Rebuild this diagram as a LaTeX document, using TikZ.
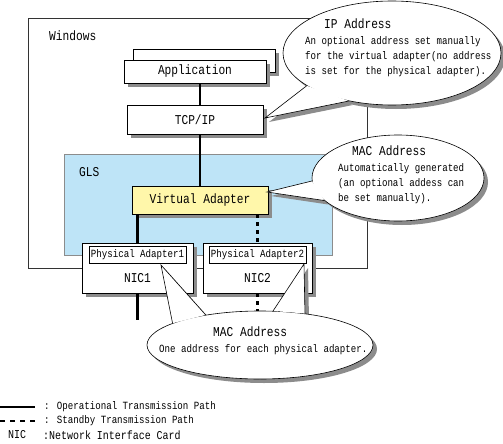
\documentclass[tikz,border=0pt]{standalone}
\usepackage{fontspec}
\setmainfont{Liberation Mono}[FakeStretch=0.83]
\usetikzlibrary{shapes.geometric,shadows}
\pgfdeclarelayer{shadelayer}
\pgfdeclarelayer{balloonlayer}
\pgfsetlayers{main,shadelayer,balloonlayer}
\definecolor{glsblue}{RGB}{190,228,247}
\definecolor{vayellow}{RGB}{255,247,170}
\definecolor{shadegray}{RGB}{140,140,140}
\newcommand{\bigfont}{\fontsize{13.5}{16}\selectfont}
\newcommand{\smallfont}{\fontsize{11}{15}\selectfont}
\tikzstyle{frame}=[draw=black!80, line width=0.6pt]
\tikzstyle{gls area}=[fill=glsblue, draw=black!45, line width=0.6pt]
\tikzstyle{box}=[fill=white, draw=black, shape=rectangle, line width=0.6pt, inner sep=0pt, font=\bigfont, drop shadow={shadow xshift=4pt, shadow yshift=-4pt, fill=shadegray, opacity=1}]
\tikzstyle{adapter box}=[style=box, fill=vayellow]
\tikzstyle{port box}=[fill=white, draw=black, shape=rectangle, line width=0.6pt, inner sep=0pt, font=\smallfont]
\tikzstyle{operational path}=[line width=2.6pt]
\tikzstyle{standby path}=[line width=2.6pt, dash pattern=on 4pt off 4pt]
\tikzstyle{balloon}=[ellipse, fill=white, draw=black, line width=0.6pt, inner sep=0pt, drop shadow={shadow xshift=4pt, shadow yshift=-4pt, fill=shadegray, opacity=1}]
\tikzstyle{tail}=[fill=white]
\tikzstyle{tail line}=[draw=black, line width=0.6pt]
\tikzstyle{tail shade}=[fill=shadegray]
\tikzstyle{title}=[font=\bigfont, anchor=west, inner sep=0pt]
\tikzstyle{note}=[font=\smallfont, anchor=west, align=left, inner sep=0pt]

\begin{document}
\begin{tikzpicture}[x=1pt, y=-1pt]
	\useasboundingbox (0,0) rectangle (503,444);
	% windows and gls
	\draw [style=frame] (28,18) rectangle (367,268);
	\node [style=title] (windowstext) at (49,36) {Windows};
	\draw [style=gls area] (64,154) rectangle (332,255);
	\node [style=title] (glstext) at (79,172) {GLS};
	% stack
	\node [style=box, minimum width=142pt, minimum height=23pt] (appback) at (204,60.5) {};
	\node [style=box, minimum width=142pt, minimum height=23pt] (app) at (195,71.5) {Application};
	\node [style=box, minimum width=136pt, minimum height=29pt] (tcp) at (195,119.5) {TCP/IP};
	\node [style=adapter box, minimum width=136pt, minimum height=28pt] (va) at (200,200) {Virtual Adapter};
	\node [style=box, minimum width=111pt, minimum height=50pt] (nic1) at (137.5,268) {};
	\node [style=box, minimum width=109pt, minimum height=50pt] (nic2) at (257.5,268) {};
	\node [style=port box, minimum width=97pt, minimum height=17pt] (pa1) at (137.5,254.5) {Physical Adapter1};
	\node [style=port box, minimum width=97pt, minimum height=17pt] (pa2) at (257.5,254.5) {Physical Adapter2};
	\node [font=\bigfont, inner sep=0pt] (nic1text) at (137.5,278) {NIC1};
	\node [font=\bigfont, inner sep=0pt] (nic2text) at (257.5,278) {NIC2};
	\coordinate (nic1end) at (137.5,320);
	\coordinate (nic2end) at (257.5,320);
	% paths
	\draw [style=operational path] (app.south -| va.north) -- (tcp.north -| va.north);
	\draw [style=operational path] (tcp.south -| va.north) -- (va.north);
	\draw [style=operational path] (va.south -| nic1.north) -- (nic1.north);
	\draw [style=operational path] (nic1.south) -- (nic1end);
	\draw [style=standby path] (va.south -| nic2.north) -- (nic2.north);
	\draw [style=standby path] (nic2.south) -- (nic2end);
	% balloons
	\begin{pgfonlayer}{balloonlayer}
		\node [style=balloon, minimum width=218pt, minimum height=104pt] (ipball) at (392,53) {};
		\coordinate (iptip) at (265,118);
		\fill [style=tail] (ipball.201) -- (iptip) -- (ipball.228) -- cycle;
		\draw [style=tail line] (ipball.201) -- (iptip) -- (ipball.228);
		\node [style=title] (iptitle) at (324,24) {IP Address};
		\node [style=note] (ipnote) at (305,57) {An optional address set manually\\for the virtual adapter(no address\\is set for the physical adapter).};

		\node [style=balloon, minimum width=172pt, minimum height=86pt] (vmacball) at (398,178) {};
		\coordinate (vmactip) at (267,192);
		\fill [style=tail] (vmacball.182) -- (vmactip) -- (vmacball.197) -- cycle;
		\draw [style=tail line] (vmacball.182) -- (vmactip) -- (vmacball.197);
		\node [style=title] (vmactitle) at (352,151) {MAC Address};
		\node [style=note] (vmacnote) at (338,184) {Automatically generated\\(an optional addess can\\be set manually).};

		\node [style=balloon, minimum width=226pt, minimum height=68pt] (pmacball) at (260,345) {};
		\coordinate (pmactip1) at (161,265);
		\coordinate (pmactip2) at (304,264);
		\fill [style=tail] (pmacball.166) -- (pmactip1) -- (pmacball.151) -- cycle;
		\fill [style=tail] (pmacball.69) -- (pmactip2) -- (pmacball.35) -- cycle;
		\draw [style=tail line] (pmacball.166) -- (pmactip1) -- (pmacball.151);
		\draw [style=tail line] (pmacball.69) -- (pmactip2) -- (pmacball.35);
		\node [style=title] (pmactitle) at (213,332) {MAC Address};
		\node [style=note] (pmacnote) at (159,350) {One address for each physical adapter.};
	\end{pgfonlayer}
	\begin{pgfonlayer}{shadelayer}
		\fill [style=tail shade] ([xshift=4pt,yshift=-4pt]ipball.201) -- ([xshift=4pt,yshift=-4pt]iptip) -- ([xshift=4pt,yshift=-4pt]ipball.228) -- cycle;
		\fill [style=tail shade] ([xshift=4pt,yshift=-4pt]vmacball.182) -- ([xshift=4pt,yshift=-4pt]vmactip) -- ([xshift=4pt,yshift=-4pt]vmacball.197) -- cycle;
		\fill [style=tail shade] ([xshift=4pt,yshift=-4pt]pmacball.166) -- ([xshift=4pt,yshift=-4pt]pmactip1) -- ([xshift=4pt,yshift=-4pt]pmacball.151) -- cycle;
		\fill [style=tail shade] ([xshift=4pt,yshift=-4pt]pmacball.69) -- ([xshift=4pt,yshift=-4pt]pmactip2) -- ([xshift=4pt,yshift=-4pt]pmacball.35) -- cycle;
	\end{pgfonlayer}
	% legend
	\coordinate (solidstart) at (0,407);
	\coordinate (solidend) at (35,407);
	\coordinate (dashstart) at (0,421);
	\coordinate (dashend) at (35,421);
	\draw [style=operational path] (solidstart) -- (solidend);
	\draw [style=standby path, dash pattern=on 5pt off 5pt] (dashstart) -- (dashend);
	\node [style=note] (soliddesc) at (44,407) {: Operational Transmission Path};
	\node [style=note] (dashdesc) at (44,421) {: Standby Transmission Path};
	\node [style=note, font=\fontsize{12}{15}\selectfont] (nicabbr) at (8,435) {NIC};
	\node [style=note, font=\fontsize{12}{15}\selectfont] (nicdesc) at (43,435) {:Network Interface Card};
\end{tikzpicture}
\end{document}
